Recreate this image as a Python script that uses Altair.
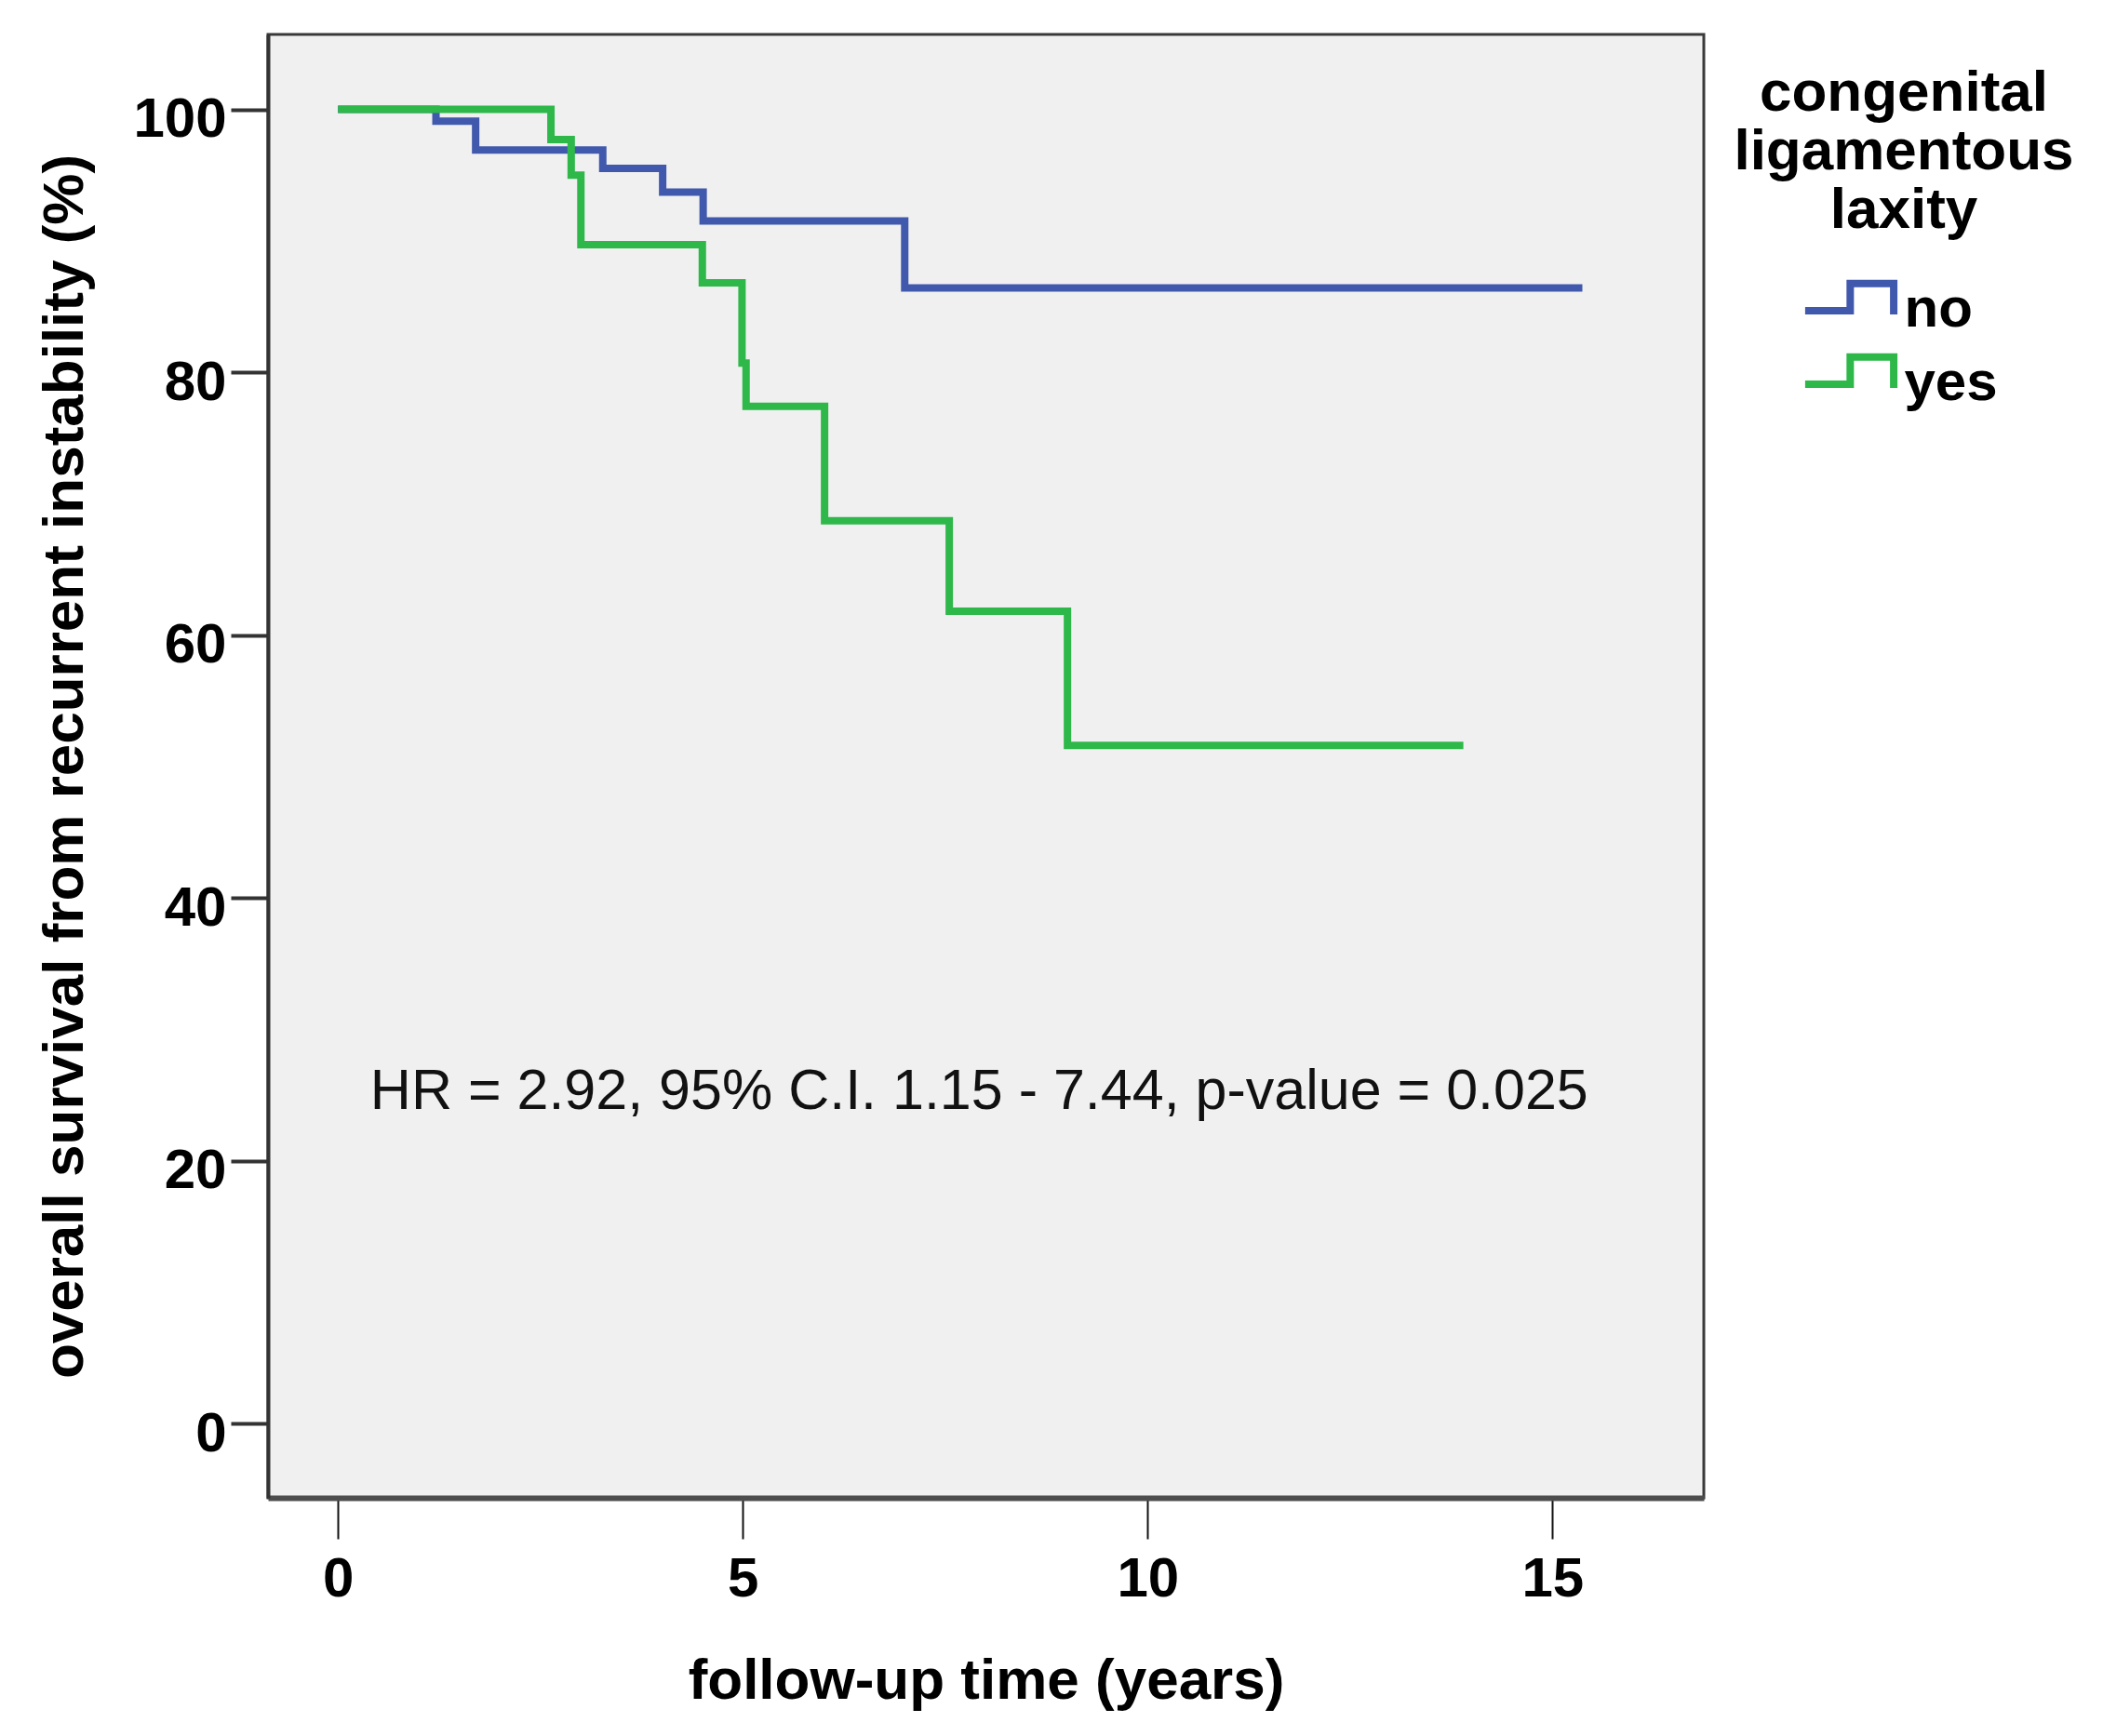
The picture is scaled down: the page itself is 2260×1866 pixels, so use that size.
import altair as alt
import pandas as pd

# ---- data ----
groups = ["no", "yes"]
group_colors = ["#4059ad", "#2eb84a"]

no_time = [0.00, 1.21, 1.70, 3.27, 4.01, 4.51, 7.00, 15.37]
no_surv = [100.0, 99.1, 96.9, 95.5, 93.7, 91.5, 86.4, 86.4]

yes_time = [0.00, 2.63, 2.88, 3.00, 4.50, 4.99, 5.04, 6.01, 7.55, 9.01, 13.90]
yes_surv = [100.0, 97.7, 95.0, 89.7, 86.8, 80.7, 77.4, 68.7, 61.8, 51.6, 51.6]

x_ticks = [0, 5, 10, 15]
y_ticks = [0, 20, 40, 60, 80, 100]
x_domain = [-0.865, 16.87]
y_domain = [-5.66, 105.7]

annotation = "HR = 2.92, 95% C.I. 1.15 - 7.44, p-value = 0.025"
annot_x = 7.92
annot_y = 23.9

legend_title = ["congenital", "ligamentous", "laxity"]
x_title = "follow-up time (years)"
y_title = "overall survival from recurrent instability (%)"

FONT = "Liberation Sans, Arial, sans-serif"

rows = []
for t, s in zip(no_time, no_surv):
    rows.append({"group": groups[0], "time": t, "surv": s})
for t, s in zip(yes_time, yes_surv):
    rows.append({"group": groups[1], "time": t, "surv": s})
df = pd.DataFrame(rows)

step_symbol = "M -2.8 0.06 H 0.05 V -1.66 H 2.8 V 0.3"

lines = alt.Chart(df).mark_line(interpolate="step-after", strokeWidth=8).encode(
    x=alt.X(
        "time:Q",
        scale=alt.Scale(domain=x_domain, nice=False, zero=False),
        axis=alt.Axis(
            values=x_ticks, title=x_title, format="d",
            domain=True, domainColor="#4d4d4d", domainWidth=6,
            ticks=True, tickColor="#111111", tickWidth=2, tickSize=44,
            labelPadding=14, labelFlush=False,
            titleY=215, titleBaseline="alphabetic",
        ),
    ),
    y=alt.Y(
        "surv:Q",
        scale=alt.Scale(domain=y_domain, nice=False, zero=False),
        axis=alt.Axis(
            values=y_ticks, title=y_title, format="d",
            domain=True, domainColor="#333333", domainWidth=4,
            ticks=True, tickColor="#333333", tickWidth=4, tickSize=40,
            labelPadding=5, labelOffset=11, labelFlush=False,
            titleX=-200, titleBaseline="alphabetic",
        ),
    ),
    color=alt.Color(
        "group:N",
        scale=alt.Scale(domain=groups, range=group_colors),
        legend=alt.Legend(
            title=legend_title,
            orient="none", legendX=1575, legendY=33, padding=0,
            titleFont=FONT, titleFontSize=62, titleFontWeight="bold",
            titleColor="#000000", titleAnchor="middle", titleAlign="center",
            titleLineHeight=63, titlePadding=45, titleLimit=2000,
            symbolType=step_symbol, symbolSize=1156, symbolStrokeWidth=8,
            symbolFillColor="transparent", symbolOffset=12.5,
            labelOffset=29, labelFont=FONT, labelFontSize=60, labelLimit=1000,
            labelFontWeight="bold", labelColor="#000000", rowPadding=4,
        ),
    ),
)

ann_df = pd.DataFrame({"x": [annot_x], "y": [annot_y], "label": [annotation]})
text = alt.Chart(ann_df).mark_text(
    font=FONT, fontSize=61, align="center", baseline="alphabetic", color="#111111"
).encode(x="x:Q", y="y:Q", text="label:N")

chart = (
    alt.layer(lines, text)
    .properties(
        width=1543,
        height=1573,
        padding={"left": 280, "top": 29, "right": 420, "bottom": 240},
        autosize=alt.AutoSizeParams(type="none"),
        background="#ffffff",
    )
    .configure_view(fill="#f0f0f0", stroke="#3a3a3a", strokeWidth=3)
    .configure_axis(
        grid=False,
        labelFont=FONT, labelFontSize=60, labelFontWeight="bold", labelColor="#000000",
        titleFont=FONT, titleFontSize=62, titleFontWeight="bold", titleColor="#000000",
    )
)

chart.save("out.html", embed_options={"renderer": "svg", "actions": False})
